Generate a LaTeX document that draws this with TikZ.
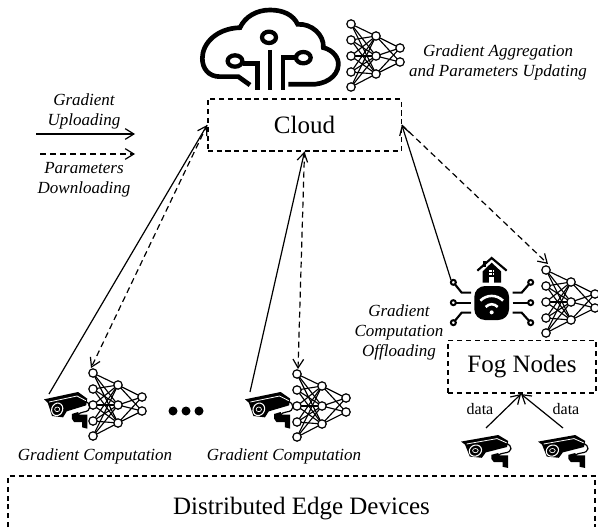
\documentclass[tikz,border=0pt]{standalone}
\usepackage{fontspec}
\setmainfont{Liberation Serif}
\usetikzlibrary{arrows.meta}
\tikzset{
  >={Straight Barb[length=6.5pt,width=8pt]},
  flow/.style={line width=0.9pt,->},
  backflow/.style={line width=0.9pt,->,dash pattern=on 4.5pt off 3pt},
  boxline/.style={line width=1pt,dash pattern=on 3.8pt off 2.8pt},
  box/.style={boxline,draw,inner sep=0pt,font=\fontsize{18.75}{22}\selectfont},
  note/.style={align=center,inner sep=0pt,font=\fontsize{12.75}{15}\selectfont\itshape},
  small/.style={inner sep=0pt,font=\fontsize{12}{14}\selectfont},
  nnet/.pic={
    \foreach \a in {0,16,32,48,63} {
      \foreach \b in {12,32,50} {
        \draw[line width=0.85pt] (0,\a) -- (25,\b);
      }
    }
    \foreach \b in {12,32,50} {
      \foreach \c in {24,38} {
        \draw[line width=0.85pt] (25,\b) -- (49,\c);
      }
    }
    \foreach \x/\y in {0/0,0/16,0/32,0/48,0/63,25/12,25/32,25/50,49/24,49/38} {
      \draw[line width=0.9pt,fill=white] (\x,\y) circle (4.2);
    }
  },
  camera/.pic={
    \begin{scope}[scale=1/3]
      \draw[line width=0.9pt] (112,28) .. controls (130,34) and (130,58) .. (108,60) .. controls (100,61) and (96,64) .. (92,70);
      \fill (0,22) -- (93,0) -- (118,20) -- (115,40) -- (62,58) -- (52,76) -- (22,72) -- (10,32) -- cycle;
      \draw[white,line width=0.6pt] (14,30) -- (90,12) -- (114,26);
      \draw[white,line width=0.8pt,rotate around={-15:(36,52)}] (36,52) ellipse (15 and 19);
      \draw[white,line width=0.5pt] (36,52) circle (7);
      \fill (76,66) -- (93,60) -- (96,68) -- (118,68) -- (118,110) -- (104,106) -- (104,90) -- (82,90) -- (76,80) -- cycle;
    \end{scope}
  },
  cloudicon/.pic={
    \begin{scope}[scale=1/3]
      \draw[line width=3.5pt] (165,240) -- (130,215) -- (75,215) .. controls (40,215) and (22,190) .. (22,160)
        .. controls (22,115) and (65,70) .. (135,68) .. controls (150,35) and (185,15) .. (225,15)
        .. controls (265,15) and (295,30) .. (308,58) .. controls (350,55) and (388,90) .. (385,128)
        .. controls (415,135) and (432,160) .. (430,180) .. controls (428,215) and (390,240) .. (345,238) -- (280,238);
      \draw[line width=3.2pt] (222,97) ellipse (21 and 17);
      \draw[line width=3.2pt] (120,168) ellipse (22 and 17);
      \draw[line width=3.2pt] (325,158) ellipse (22 and 17);
      \draw[line width=3.5pt] (225,135) -- (225,255);
      \draw[line width=3.5pt] (143,176) -- (188,176) -- (188,255);
      \draw[line width=3.5pt] (302,158) -- (264,158) -- (264,255);
    \end{scope}
  },
  wifiicon/.pic={
    \begin{scope}[scale=1/3]
      \fill[rounded corners=8pt] (88,108) rectangle (192,210);
      \draw[white,line width=1.9pt] (106,152) .. controls (125,133) and (155,133) .. (174,152);
      \draw[white,line width=1.9pt] (122,171) .. controls (132,160) and (148,160) .. (158,171);
      \fill[white] (140,187) circle (6);
      \draw[line width=1.6pt] (97,62) -- (140,24) -- (185,62);
      \fill (115,32) rectangle (124,52);
      \fill (113,64) -- (140,38) -- (168,64) -- (168,98) -- (113,98) -- cycle;
      \fill[white] (133,60) rectangle (148,75);
      \fill[white] (133,82) rectangle (148,98);
      \draw[line width=0.5pt] (140.5,60) -- (140.5,75) (133,67.5) -- (148,67.5);
      \foreach \a/\b/\c/\d in {25/97/50/128,25/218/50/188,257/97/230/128,257/218/230/188} {
        \ifnum\c<100 \draw[line width=1.6pt] (\a,\b) -- (\c,\d) -- (78,\d);
        \else \draw[line width=1.6pt] (\a,\b) -- (\c,\d) -- (203,\d); \fi
        \draw[line width=1.5pt,fill=white] (\a,\b) circle (7.5);
      }
      \draw[line width=1.6pt] (25,158) -- (78,158) (203,158) -- (257,158);
      \draw[line width=1.5pt,fill=white] (25,158) circle (7.5);
      \draw[line width=1.5pt,fill=white] (257,158) circle (7.5);
    \end{scope}
  },
}
\begin{document}
\begin{tikzpicture}[x=0.75pt,y=-0.75pt]
  \useasboundingbox (0,0) rectangle (598,527);

  % boxes
  \node[box,minimum width=145pt,minimum height=39pt] (cloudbox) at (304.5,125) {Cloud};
  \node[box,minimum width=111pt,minimum height=39.5pt] (fogbox) at (522,366.5) {Fog Nodes};
  \node[inner sep=0pt,font=\fontsize{18.75}{22}\selectfont] (edgebox) at (301.5,509) {Distributed Edge Devices};
  \draw[boxline] (8,527) -- (8,476) -- (595,476) -- (595,527);

  % icons
  \pic at (195,5) {cloudicon};
  \pic at (445,250) {wifiicon};
  \pic at (351,24) {nnet};
  \pic at (93,373) {nnet};
  \pic at (297,374) {nnet};
  \pic at (546,270) {nnet};
  \pic[xscale=1.1] at (44,392) {camera};
  \pic[xscale=1.15] at (245,392) {camera};
  \pic[xscale=1.2,yscale=0.9] at (461,435) {camera};
  \pic[xscale=1.2,yscale=0.9] at (538,435) {camera};
  \foreach \x in {173,186,199} {
    \fill (\x,411) circle (4.5);
  }

  % connector ends
  \coordinate (legendAa) at (36,134);
  \coordinate (legendAb) at (135,134);
  \coordinate (legendBa) at (40,154);
  \coordinate (legendBb) at (135,154);
  \coordinate (camA) at (49,394);
  \coordinate (camB) at (250,392);
  \coordinate (netA) at (91,368);
  \coordinate (netB) at (298,369);
  \coordinate (netC) at (548,264);
  \coordinate (wifi) at (451,280);
  \coordinate (camC) at (486,428);
  \coordinate (camD) at (563,428);
  \coordinate (fogin) at (521,394);

  \draw[flow] (legendAa) -- (legendAb);
  \draw[backflow] (legendBa) -- (legendBb);
  \draw[flow] (camA) -- (cloudbox.west);
  \draw[backflow] (cloudbox.west) -- (netA);
  \draw[flow] (camB) -- (cloudbox.south);
  \draw[backflow] (cloudbox.south) -- (netB);
  \draw[flow] (wifi) -- (cloudbox.east);
  \draw[backflow] (cloudbox.east) -- (netC);
  \draw[flow] (camC) -- (fogin);
  \draw[flow] (camD) -- (fogin);

  % labels
  \node[note] (uploadlabel) at (84,111) {Gradient\\Uploading};
  \node[note] (downloadlabel) at (84,179.5) {Parameters\\Downloading};
  \node[note] (aggregationlabel) at (498,62) {Gradient Aggregation\\and Parameters Updating};
  \node[note] (offloadlabel) at (399,332) {Gradient\\Computation\\Offloading};
  \node[note] (gradAlabel) at (95,456) {Gradient Computation};
  \node[note] (gradBlabel) at (284,456) {Gradient Computation};
  \node[small] (dataAlabel) at (480,409) {data};
  \node[small] (dataBlabel) at (566,409) {data};
\end{tikzpicture}
\end{document}
